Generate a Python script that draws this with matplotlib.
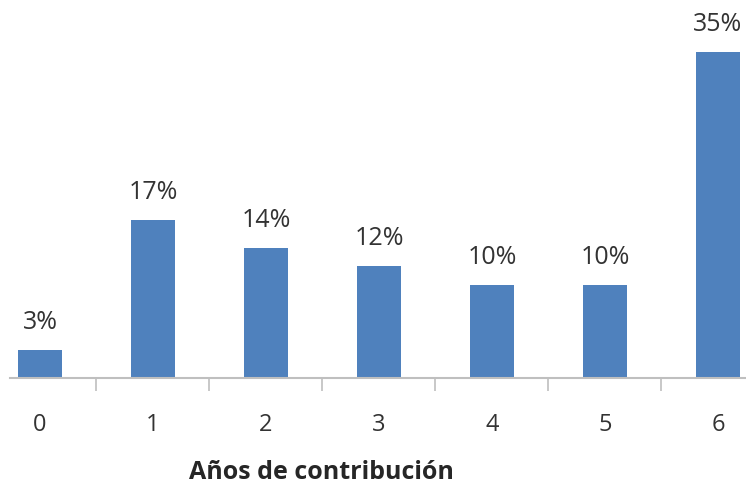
import matplotlib
matplotlib.use("Agg")
import matplotlib.pyplot as plt

# Data
years = ["0", "1", "2", "3", "4", "5", "6"]
shares = [3, 17, 14, 12, 10, 10, 35]
labels = ["3%", "17%", "14%", "12%", "10%", "10%", "35%"]

plt.rcParams["font.family"] = ["Open Sans", "DejaVu Sans"]

fig = plt.figure(figsize=(7.46, 4.91), dpi=100)
ax = fig.add_axes([10 / 746, 113 / 491, 736 / 746, 378 / 491])

x = range(len(years))
ax.bar(x, shares, width=0.39, color="#4F81BD", zorder=2)

for xi, h, lab in zip(x, shares, labels):
    ax.annotate(lab, (xi, h), xytext=(0, 15), textcoords="offset points",
                ha="center", va="baseline", fontsize=18, color="#333333",
                annotation_clip=False)

ax.set_xlim(-0.265, 6.248)
ax.set_ylim(0, 40.6)

ax.set_xticks(list(x))
ax.set_xticklabels(years, fontsize=17, color="#333333")
ax.tick_params(axis="x", which="major", length=0, pad=25)
ax.set_xticks([i + 0.5 for i in range(len(years) - 1)], minor=True)
ax.tick_params(axis="x", which="minor", length=9, width=1.2, color="#BFBFBF")
ax.set_yticks([])

for side in ["top", "right", "left"]:
    ax.spines[side].set_visible(False)
ax.spines["bottom"].set_color("#BFBFBF")
ax.spines["bottom"].set_linewidth(1.5)

ax.set_xlabel("Años de contribución", fontsize=18, fontweight="bold",
              color="#262626")
ax.xaxis.set_label_coords((321 - 10) / 736, -82 / 378)

fig.savefig("out.png", dpi=100)
